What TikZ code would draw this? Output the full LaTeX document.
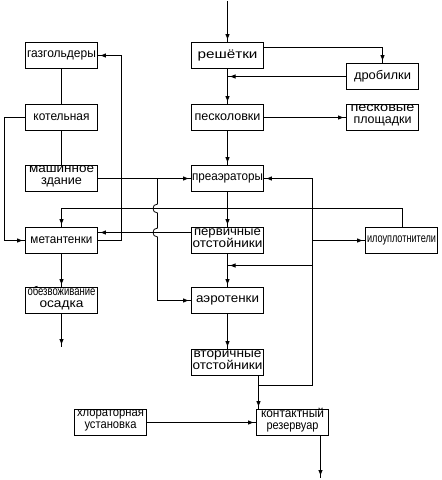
\documentclass[tikz,border=0pt]{standalone}
\usepackage{fontspec}
\setmainfont{Liberation Sans}
\usetikzlibrary{arrows.meta,decorations.markings}
\newsavebox\fwbox
\newcommand\fw[2]{\sbox\fwbox{#2}\pgfmathsetmacro\fwfac{#1/(\the\wd\fwbox)}\scalebox{\fwfac}[1]{#2}}
\begin{document}
\begin{tikzpicture}[x=1pt,y=-1pt,
 box/.style={draw, line width=0.8pt, minimum width=72pt, minimum height=26pt, inner sep=0pt},
 lab/.style={inner sep=0pt, align=center, font=\fontsize{12.5}{12}\selectfont},
 lab2/.style={lab, yshift=2.5pt},
 ln/.style={line width=0.8pt},
 arr/.style={ln, postaction={decorate}, decoration={markings, mark=at position -2pt with {\arrow{Latex[length=6pt,width=4.5pt]}}}}]
\useasboundingbox (0,0) rectangle (442,480);
% boxes
\node[box] (gas) at (61.5,55.5) {};
\node[box] (kot) at (61.5,117.5) {};
\node[box] (mash) at (61.5,178.5) {};
\node[box] (met) at (61.5,240.5) {};
\node[box] (obez) at (61.5,300.5) {};
\node[box] (resh) at (227.5,55.5) {};
\node[box] (drob) at (382.5,76.5) {};
\node[box] (pesk) at (227.5,117.5) {};
\node[box] (plosh) at (382.5,117.5) {};
\node[box] (pre) at (227.5,178.5) {};
\node[box] (perv) at (227.5,240.5) {};
\node[box] (ilo) at (401.5,240.5) {};
\node[box] (aero) at (227.5,300.5) {};
\node[box] (vtor) at (227.5,362.5) {};
\node[box] (hlor) at (110.5,422.5) {};
\node[box] (kont) at (292.5,422.5) {};
% texts
\node[lab] (gas-t) at (gas) {\fw{69}{газгольдеры}};
\node[lab] (kot-t) at (kot) {\fw{56}{котельная}};
\node[lab2] (mash-t) at (mash) {\fw{65}{машинное}\\\fw{41}{здание}};
\node[lab] (met-t) at (met) {\fw{62}{метантенки}};
\node[lab2] (obez-t) at (obez) {\fw{68}{обезвоживание}\\\fw{44}{осадка}};
\node[lab] (resh-t) at (resh) {\fw{60}{решётки}};
\node[lab] (drob-t) at (drob) {\fw{57}{дробилки}};
\node[lab] (pesk-t) at (pesk) {\fw{66}{песколовки}};
\node[lab2] (plosh-t) at (plosh) {\fw{64}{песковые}\\\fw{58}{площадки}};
\node[lab] (pre-t) at (pre) {\fw{71}{преаэраторы}};
\node[lab2] (perv-t) at (perv) {\fw{67}{первичные}\\\fw{70}{отстойники}};
\node[lab] (ilo-t) at (ilo) {\fw{69}{илоуплотнители}};
\node[lab] (aero-t) at (aero) {\fw{63}{аэротенки}};
\node[lab2] (vtor-t) at (vtor) {\fw{68}{вторичные}\\\fw{70}{отстойники}};
\node[lab2] (hlor-t) at (hlor) {\fw{67}{хлораторная}\\\fw{52}{установка}};
\node[lab2] (kont-t) at (kont) {\fw{63}{контактный}\\\fw{52}{резервуар}};
% coordinates
\coordinate (in) at (227.5,1);
\coordinate (j) at (258.5,385.5);
\coordinate (r) at (312.5,385.5);
\coordinate (r2) at (312.5,265.5);
\coordinate (out) at (320.5,478);
\coordinate (t) at (402.5,208.5);
\coordinate (g) at (121.5,55.5);
\coordinate (k) at (4.5,117.5);
\coordinate (o) at (61.5,347);
\coordinate (v) at (157.5,178.5);
\coordinate (h1a) at (157.5,204);
\coordinate (h1b) at (157.5,213);
\coordinate (h2a) at (157.5,228);
\coordinate (h2b) at (157.5,237);
\coordinate (vb) at (157.5,300.5);
% connectors
\draw[arr] (in) -- (resh.north);
\draw[arr] ([yshift=8pt]resh.east) -| (drob.north);
\draw[arr] (drob.west) -- (drob.west -| resh.south);
\draw[arr] (resh.south) -- (pesk.north);
\draw[arr] (pesk.east) -- (plosh.west);
\draw[arr] (pesk.south) -- (pre.north);
\draw[arr] (pre.south) -- (perv.north);
\draw[arr] (perv.south) -- (aero.north);
\draw[arr] (aero.south) -- (vtor.north);
\draw[arr] (vtor.south -| j) -- (kont.north -| j);
\draw[arr] (j) -- (r) -- (r |- pre.east) -- (pre.east);
\draw[arr] (r |- ilo.west) -- (ilo.west);
\draw[arr] (r2) -- (r2 -| perv.south);
\draw[arr] (hlor.east) -- (kont.west);
\draw[arr] (kont.south -| out) -- (out);
\draw[arr] (ilo.north -| t) -- (t) -- (t -| met.north) -- (met.north);
\draw[arr] ([yshift=8pt]perv.west) -- ([yshift=8pt]perv.west -| met.east);
\draw[arr] (met.east) -- (met.east -| g) -- (g) -- (gas.east);
\draw[arr] (kot.west) -- (k) -- (k |- met.west) -- (met.west);
\draw[ln] (gas.south) -- (kot.north);
\draw[ln] (kot.south) -- (mash.north);
\draw[arr] (met.south) -- (obez.north);
\draw[arr] (obez.south) -- (o);
\draw[arr] (mash.east) -- (pre.west);
\draw[arr] (v) -- (h1a) .. controls ([xshift=-6pt]h1a) and ([xshift=-6pt]h1b) .. (h1b) -- (h2a) .. controls ([xshift=-6pt]h2a) and ([xshift=-6pt]h2b) .. (h2b) -- (vb) -- (aero.west);
\end{tikzpicture}
\end{document}
